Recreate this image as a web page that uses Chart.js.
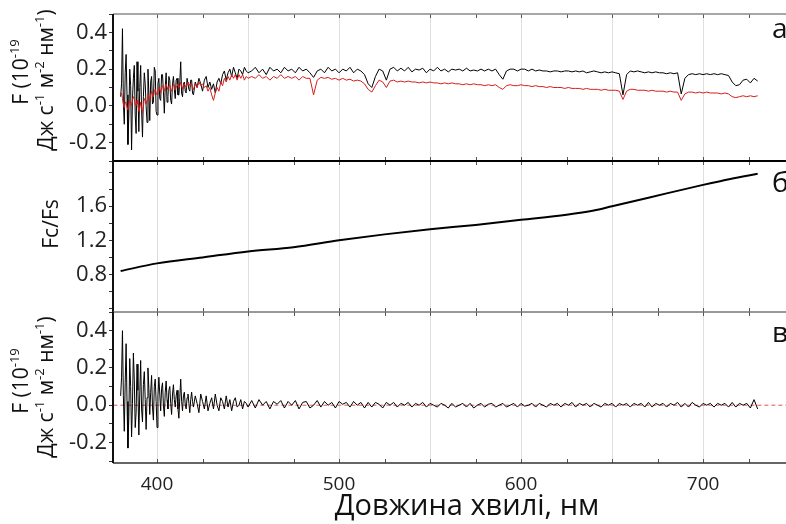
<!DOCTYPE html>
<html><head><meta charset="utf-8">
<script src="https://cdn.jsdelivr.net/npm/chart.js@4.4.1/dist/chart.umd.min.js"></script>
<style>
html,body{margin:0;padding:0;background:#fff;overflow:hidden;width:786px;height:524px;}
#wrap{position:relative;width:786px;height:524px;overflow:hidden;background:#fff;}
#wrap canvas{position:absolute;left:0;top:0;}
</style></head><body>
<div id="wrap">
<canvas id="ca" width="821" height="524"></canvas>
<canvas id="cb" width="821" height="524"></canvas>
<canvas id="cc" width="821" height="524"></canvas>
</div>
<script>
// ---------- DATA ----------
const wavelength = [
380,380.5,381,381.5,382,382.5,383,383.5,384,384.5,
385,385.5,386,386.5,387,387.5,388,388.5,389,389.5,
390,390.5,391,391.5,392,392.5,393,393.5,394,394.5,
395,395.5,396,396.5,397,397.5,398,398.5,399,399.5,
400,400.5,401,401.5,402,402.5,403,403.5,404,404.5,
405,405.5,406,406.5,407,407.5,408,408.5,409,409.5,
410,410.5,411,411.5,412,412.5,413,413.5,414,414.5,
415,415.5,416,416.5,417,417.5,418,418.5,419,419.5,
420,
421,422,423,424,425,426,427,428,429,430,431,432,433,434,435,
436,437,438,439,440,441,442,443,444,445,446,447,448,449,450,
452,454,456,458,460,462,464,466,468,470,472,474,476,478,480,482,484,486,488,490,
492,494,496,498,500,502,504,506,508,510,512,514,516,518,520,522,524,526,528,530,
532,534,536,538,540,542,544,546,548,550,552,554,556,558,560,562,564,566,568,570,
572,574,576,578,580,582,584,586,588,590,592,594,596,598,600,602,604,606,608,610,
612,614,616,618,620,622,624,626,628,630,632,634,636,638,640,642,644,646,648,650,
652,654,656,658,660,662,664,666,668,670,672,674,676,678,680,682,684,686,688,690,
692,694,696,698,700,702,704,706,708,710,712,714,716,718,720,722,724,726,728,730];

// panel а: observed flux (black)
const fluxObserved = [
0.05,0.12,0.42,0.02,-0.10,0.18,0.28,0.06,-0.21,-0.05,
0.20,0.11,-0.24,0.04,0.15,0.22,-0.05,-0.15,0.24,0.08,
-0.14,0.10,0.22,-0.02,-0.17,0.05,0.18,0.12,0.00,-0.09,
0.20,0.07,-0.08,0.13,0.16,0.01,0.02,0.21,0.19,-0.03,
-0.05,0.12,0.15,0.04,0.03,0.17,0.17,0.08,-0.04,0.10,
0.18,0.02,0.05,0.16,0.14,0.03,0.01,0.12,0.16,0.09,
0.04,0.14,0.15,0.06,0.06,0.13,0.24,0.07,0.05,0.12,
0.13,0.08,0.07,0.15,0.15,0.09,0.08,0.14,0.14,0.07,
0.06,
0.13,0.10,0.15,0.12,0.08,0.14,0.16,0.10,0.13,0.09,0.12,0.07,0.13,0.15,0.12,
0.17,0.19,0.14,0.18,0.20,0.16,0.21,0.18,0.15,0.20,0.19,0.17,0.21,0.19,0.18,
0.19,0.21,0.18,0.20,0.17,0.21,0.19,0.20,0.18,0.21,0.19,0.20,0.18,0.21,0.19,0.20,0.18,0.155,0.19,0.20,
0.18,0.21,0.19,0.20,0.18,0.20,0.19,0.21,0.18,0.20,0.19,0.17,0.12,0.10,0.16,0.20,0.19,0.14,0.20,0.21,
0.19,0.205,0.19,0.21,0.185,0.20,0.195,0.205,0.18,0.20,0.19,0.21,0.19,0.20,0.185,0.20,0.195,0.20,0.19,0.205,
0.19,0.195,0.19,0.20,0.19,0.20,0.19,0.20,0.17,0.145,0.19,0.20,0.20,0.19,0.20,0.20,0.19,0.20,0.19,0.195,
0.19,0.19,0.185,0.19,0.19,0.185,0.19,0.19,0.185,0.19,0.185,0.19,0.18,0.185,0.19,0.185,0.18,0.185,0.18,0.185,
0.18,0.175,0.06,0.17,0.19,0.185,0.19,0.185,0.18,0.185,0.18,0.185,0.18,0.18,0.175,0.18,0.175,0.18,0.065,0.15,
0.17,0.175,0.17,0.175,0.17,0.175,0.17,0.175,0.17,0.175,0.17,0.165,0.13,0.11,0.115,0.14,0.145,0.125,0.15,0.135];

// panel а: second spectrum (red)
const fluxModel = [
0.06,0.07,0.04,0.01,-0.01,0.02,0.02,-0.01,-0.02,0.01,
0.03,0.02,0.00,0.03,0.05,0.04,0.01,0.00,0.03,0.01,
-0.03,-0.01,0.02,-0.01,-0.04,0.00,0.04,0.03,0.01,0.03,
0.06,0.05,0.03,0.06,0.08,0.06,0.05,0.08,0.09,0.07,
0.06,0.08,0.10,0.09,0.07,0.10,0.11,0.09,0.08,0.10,
0.12,0.10,0.09,0.11,0.11,0.09,0.08,0.10,0.12,0.11,
0.09,0.10,0.11,0.12,0.10,0.11,0.13,0.11,0.09,0.11,
0.12,0.11,0.10,0.12,0.13,0.12,0.11,0.12,0.12,0.10,
0.09,
0.12,0.10,0.13,0.11,0.12,0.10,0.11,0.08,0.10,0.06,0.03,0.07,0.10,0.08,0.13,
0.11,0.15,0.13,0.16,0.14,0.17,0.15,0.17,0.14,0.17,0.15,0.17,0.14,0.16,0.15,
0.16,0.15,0.17,0.15,0.16,0.14,0.16,0.15,0.17,0.15,0.16,0.15,0.16,0.14,0.16,0.15,0.15,0.06,0.14,0.155,
0.15,0.155,0.145,0.15,0.14,0.15,0.14,0.145,0.135,0.14,0.135,0.12,0.09,0.075,0.11,0.14,0.13,0.10,0.135,0.14,
0.13,0.135,0.13,0.135,0.13,0.13,0.125,0.13,0.125,0.13,0.125,0.125,0.12,0.125,0.12,0.125,0.12,0.12,0.115,0.12,
0.115,0.12,0.115,0.115,0.11,0.115,0.11,0.115,0.10,0.09,0.11,0.115,0.11,0.11,0.115,0.11,0.11,0.105,0.11,0.105,
0.105,0.10,0.105,0.10,0.10,0.10,0.095,0.10,0.095,0.095,0.095,0.09,0.095,0.09,0.09,0.09,0.085,0.09,0.085,0.085,
0.085,0.08,0.035,0.08,0.09,0.09,0.085,0.085,0.085,0.08,0.085,0.08,0.08,0.08,0.075,0.08,0.075,0.075,0.03,0.065,
0.075,0.075,0.07,0.075,0.07,0.075,0.07,0.07,0.07,0.065,0.07,0.065,0.05,0.045,0.05,0.055,0.05,0.055,0.05,0.055];

// panel в: residual (black)
const residual = [
0.05,0.15,0.40,0.05,-0.14,0.12,0.33,0.02,-0.23,-0.06,
0.25,0.10,-0.17,0.01,0.28,0.14,-0.12,-0.04,0.22,0.08,
-0.16,0.06,0.24,-0.02,-0.09,0.11,0.18,0.03,-0.13,0.04,
0.20,0.09,-0.05,0.07,0.16,-0.01,-0.08,0.10,0.14,0.02,
-0.12,0.05,0.15,0.06,-0.03,0.09,0.12,0.00,-0.06,0.07,
0.13,0.03,-0.02,0.08,0.10,0.01,-0.05,0.06,0.11,0.03,
-0.01,0.05,0.08,-0.02,-0.07,0.04,0.14,0.02,-0.03,0.05,
0.07,0.00,-0.02,0.04,0.06,0.01,-0.04,0.03,0.07,0.02,
-0.01,
0.05,0.01,-0.04,0.06,0.02,-0.02,0.05,-0.03,0.01,0.04,-0.02,0.06,0.00,-0.03,0.04,
0.02,-0.02,0.05,-0.01,0.03,-0.03,0.02,0.04,-0.01,0.00,0.03,-0.02,0.02,0.01,-0.01,
0.025,-0.015,0.03,0.0,0.02,-0.02,0.02,0.005,0.025,-0.015,0.02,0.0,0.025,-0.02,0.015,0.02,-0.015,0.0,0.025,-0.01,
0.02,0.0,0.015,-0.015,0.02,0.005,0.015,-0.01,0.02,0.0,0.015,-0.015,0.015,-0.01,0.015,0.005,-0.015,0.015,0.0,0.015,
-0.01,0.01,0.0,0.015,-0.01,0.01,0.0,0.015,-0.01,0.01,0.0,-0.01,0.01,0.0,-0.015,0.01,-0.01,0.0,0.01,-0.01,
0.01,-0.015,0.0,0.01,-0.01,0.005,0.01,-0.01,0.0,0.01,-0.01,0.0,0.01,-0.01,0.01,-0.005,0.0,0.01,-0.01,0.01,
0.0,-0.01,0.01,0.0,0.01,-0.01,0.01,0.0,0.015,-0.01,0.01,0.0,0.01,-0.01,0.01,0.0,-0.01,0.01,0.0,0.01,
-0.01,0.01,0.0,0.01,-0.01,0.01,0.0,0.01,-0.01,0.015,-0.01,0.01,0.0,0.01,-0.01,0.01,0.0,0.015,-0.01,0.01,
-0.01,0.015,0.0,-0.01,0.01,0.0,0.01,-0.01,0.01,0.0,0.01,-0.01,0.015,-0.01,0.01,0.0,0.01,-0.015,0.03,-0.02];

// panel в: zero reference (red dashed)
const zeroWl = [376, 765];
const zeroLevel = [0, 0];

// panel б: Fc/Fs ratio
const ratioWl = [380,400,425,450,475,500,525,550,575,600,625,640,650,670,700,715,730];
const ratio   = [0.84,0.93,1.00,1.07,1.12,1.20,1.27,1.33,1.38,1.44,1.50,1.55,1.60,1.70,1.85,1.92,1.98];

// tick labels
const xTickLabels = [400, 500, 600, 700];
const yLabelsAC = [-0.2, 0.0, 0.2, 0.4];
const yLabelsB = [0.8, 1.2, 1.6];

// texts
const xTitle = 'Довжина хвилі, нм';
const fluxTitle1 = [{t:'F (10'},{t:'-19',sup:true}];
const fluxTitle2 = [{t:'Дж с'},{t:'-1',sup:true},{t:' м'},{t:'-2',sup:true},{t:' нм'},{t:'-1',sup:true},{t:')'}];
const ratioTitle = [{t:'Fc/Fs'}];
const panelLetters = ['а','б','в'];

// ---------- RENDERING ----------
const FONT = "'Open Sans', 'DejaVu Sans', sans-serif";
const X_MIN = 375.8, X_MAX = 764.8;

function pts(xs, ys){ return xs.map((x,i)=>({x:x, y:ys[i]})); }

function xScale(show){
  return {
    type:'linear', position:'bottom', min:X_MIN, max:X_MAX,
    ticks:{display:show, stepSize:25, includeBounds:false, autoSkip:false, maxRotation:0, minRotation:0,
      padding:10, color:'#222', font:{family:FONT, size:19},
      callback:(v)=>{ const r=Math.round(v); return xTickLabels.includes(r) ? String(r) : ''; }},
    grid:{drawTicks:false, lineWidth:1,
      color:(c)=> (c.tick && Math.round(c.tick.value)%50===0) ? 'rgba(0,0,0,0.13)' : 'rgba(0,0,0,0)'},
    border:{display:false},
    title: show ? {display:true, text:xTitle, color:'#111', font:{family:FONT, size:29}, padding:{top:0,bottom:0}} : {display:false},
    afterFit:(s)=>{ s.height = show ? 61 : 0; s.paddingLeft=0; s.paddingRight=0; }
  };
}
function yScale(min, max, step, labels){
  return {
    type:'linear', position:'left', min:min, max:max,
    ticks:{stepSize:step, includeBounds:false, autoSkip:false, padding:2, color:'#222',
      font:{family:FONT, size:22},
      callback:(v)=>{ const k=Math.round(v*10); return labels.some(l=>Math.round(l*10)===k) ? (k/10).toFixed(1) : ''; }},
    grid:{drawOnChartArea:false, drawTicks:true, tickLength:4, color:'#333', lineWidth:1},
    border:{display:false},
    afterFit:(s)=>{ s.width=113; s.paddingTop=0; s.paddingBottom=0; }
  };
}
function drawRich(ctx, segs, bx, cy, size){
  ctx.save();
  ctx.translate(bx, cy);
  ctx.rotate(-Math.PI/2);
  ctx.fillStyle='#111';
  ctx.textBaseline='alphabetic';
  ctx.textAlign='left';
  const sup=Math.round(size*0.62);
  const widths=segs.map(s=>{ ctx.font=(s.sup?sup:size)+'px '+FONT; return ctx.measureText(s.t).width; });
  let x=-widths.reduce((a,b)=>a+b,0)/2;
  segs.forEach((s,i)=>{ ctx.font=(s.sup?sup:size)+'px '+FONT; ctx.fillText(s.t, x, s.sup ? -size*0.42 : 0); x+=widths[i]; });
  ctx.restore();
}
function framePlugin(cfg){
  return {
    id:'frame',
    afterDraw(chart){
      const ctx=chart.ctx, a=chart.chartArea, xs=chart.scales.x;
      ctx.save();
      ctx.strokeStyle='#555'; ctx.lineWidth=1;
      xs.ticks.forEach(t=>{
        const p=Math.round(xs.getPixelForValue(t.value))+0.5;
        ctx.beginPath(); ctx.moveTo(p,a.top); ctx.lineTo(p,a.top+4);
        ctx.moveTo(p,a.bottom); ctx.lineTo(p,a.bottom-4); ctx.stroke();
      });
      const line=(x1,y1,x2,y2,c,w)=>{ ctx.strokeStyle=c; ctx.lineWidth=w; ctx.beginPath(); ctx.moveTo(x1,y1); ctx.lineTo(x2,y2); ctx.stroke(); };
      line(a.left,a.top,a.right,a.top,cfg.top[0],cfg.top[1]);
      line(a.left,a.bottom,a.right,a.bottom,cfg.bottom[0],cfg.bottom[1]);
      line(a.left,a.top,a.left,a.bottom,'#111',2);
      ctx.fillStyle='#111'; ctx.font='28px '+FONT; ctx.textAlign='left'; ctx.textBaseline='alphabetic';
      ctx.fillText(cfg.letter, a.right-49, a.top+cfg.letterDy);
      ctx.restore();
      cfg.titles.forEach(tt=>drawRich(ctx, tt.segs, tt.x, tt.y, tt.size));
    }
  };
}
function baseOptions(padTop, padBottom){
  return {
    responsive:false, animation:false, devicePixelRatio:1,
    layout:{padding:{top:padTop, bottom:padBottom, left:0, right:0}},
    plugins:{legend:{display:false}, tooltip:{enabled:false}},
    elements:{point:{radius:0}, line:{tension:0}}
  };
}

// panel а
const optA = baseOptions(14, 524-161);
optA.scales = {x:xScale(false), y:yScale(-0.3, 0.5, 0.1, yLabelsAC)};
new Chart(document.getElementById('ca'), {
  type:'line',
  data:{datasets:[
    {data:pts(wavelength, fluxModel), borderColor:'#d61d1d', borderWidth:1},
    {data:pts(wavelength, fluxObserved), borderColor:'#000', borderWidth:1}
  ]},
  options:optA,
  plugins:[framePlugin({top:['#8a8a8a',1.5], bottom:['#000',2], letter:panelLetters[0], letterDy:24,
    titles:[{segs:fluxTitle1,x:28,y:72,size:21},{segs:fluxTitle2,x:53,y:80,size:21}]})]
});

// panel б
const optB = baseOptions(161, 524-312);
optB.scales = {x:xScale(false), y:yScale(0.36, 2.13, 0.2, yLabelsB)};
new Chart(document.getElementById('cb'), {
  type:'line',
  data:{datasets:[
    {data:pts(ratioWl, ratio), borderColor:'#000', borderWidth:2, cubicInterpolationMode:'monotone'}
  ]},
  options:optB,
  plugins:[framePlugin({top:['#000',2], bottom:['#777',1], letter:panelLetters[1], letterDy:31,
    titles:[{segs:ratioTitle,x:58,y:224,size:21}]})]
});

// panel в
const optC = baseOptions(312, 0);
optC.scales = {x:xScale(true), y:yScale(-0.31, 0.5, 0.1, yLabelsAC)};
new Chart(document.getElementById('cc'), {
  type:'line',
  data:{datasets:[
    {data:pts(wavelength, residual), borderColor:'#000', borderWidth:1},
    {data:pts(zeroWl, zeroLevel), borderColor:'#e05555', borderWidth:1, borderDash:[4,3]}
  ]},
  options:optC,
  plugins:[framePlugin({top:['#777',1], bottom:['#333',1.5], letter:panelLetters[2], letterDy:30,
    titles:[{segs:fluxTitle1,x:28,y:381,size:21},{segs:fluxTitle2,x:53,y:387,size:21}]})]
});
</script>
</body></html>
